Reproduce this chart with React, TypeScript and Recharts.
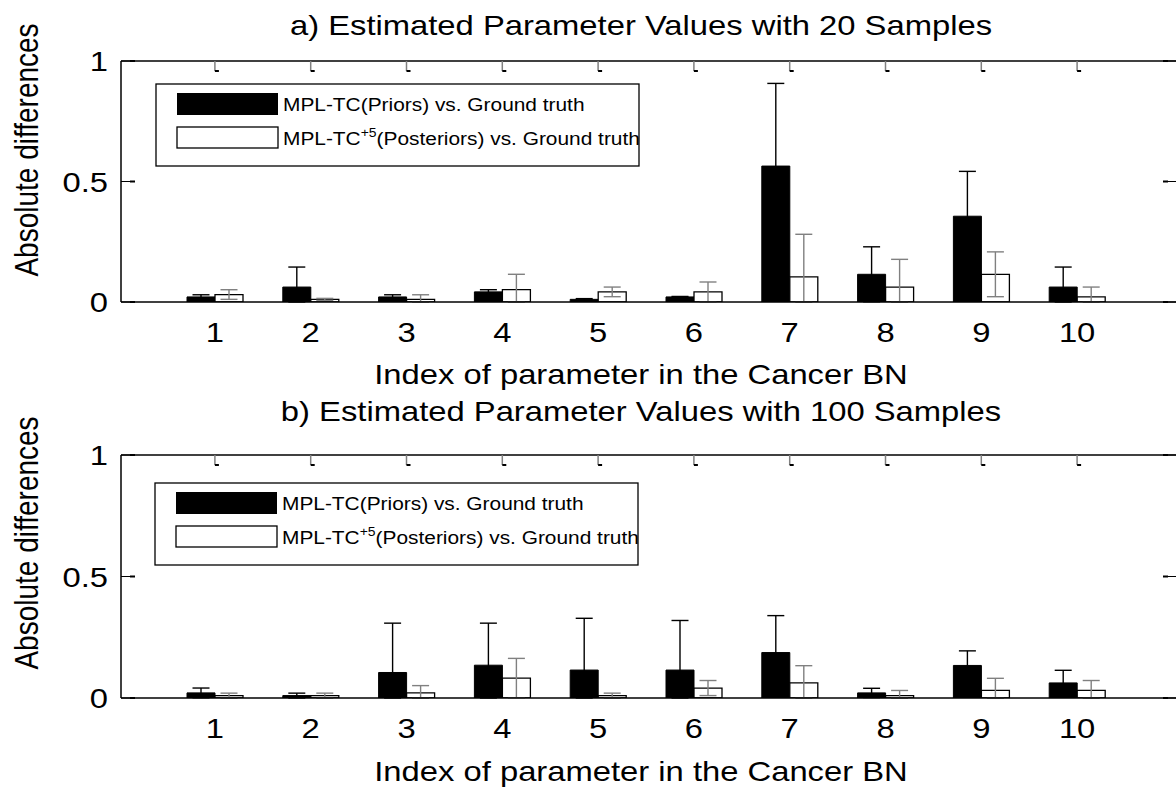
import { BarChart, Bar, XAxis, YAxis, ErrorBar } from "recharts";

const paramIndex = ["1", "2", "3", "4", "5", "6", "7", "8", "9", "10"];

// a) 20 samples
const priors20 = [0.021, 0.062, 0.021, 0.042, 0.011, 0.021, 0.564, 0.115, 0.356, 0.062];
const priors20Err = [0.009, 0.083, 0.009, 0.009, 0.003, 0.002, 0.343, 0.114, 0.186, 0.083];
const posteriors20 = [0.031, 0.011, 0.011, 0.051, 0.042, 0.042, 0.104, 0.062, 0.115, 0.021];
const posteriors20Err = [0.02, 0.004, 0.019, 0.064, 0.02, 0.041, 0.177, 0.115, 0.093, 0.041];

// b) 100 samples
const priors100 = [0.021, 0.01, 0.105, 0.135, 0.115, 0.115, 0.187, 0.021, 0.134, 0.062];
const priors100Err = [0.02, 0.01, 0.203, 0.173, 0.213, 0.204, 0.152, 0.019, 0.06, 0.052];
const posteriors100 = [0.01, 0.01, 0.021, 0.082, 0.01, 0.041, 0.062, 0.01, 0.031, 0.031];
const posteriors100Err = [0.01, 0.01, 0.03, 0.081, 0.01, 0.031, 0.071, 0.021, 0.05, 0.041];

const yTicks = [0, 0.5, 1];

const FONT = '"Liberation Sans", Arial, Helvetica, sans-serif';
const STRETCH = 1.17;
const PLOT_W = 1056;

type Row = {
  idx: string;
  prior: number;
  priorErr: number[];
  post: number;
  postErr: number[];
};

// error bars are cut at the x axis, like the axes clipping in the original
function buildRows(pr: number[], prErr: number[], po: number[], poErr: number[]): Row[] {
  return paramIndex.map((idx, i) => ({
    idx,
    prior: pr[i],
    priorErr: [Math.min(prErr[i], pr[i]), prErr[i]],
    post: po[i],
    postErr: [Math.min(poErr[i], po[i]), poErr[i]],
  }));
}

const rows20 = buildRows(priors20, priors20Err, posteriors20, posteriors20Err);
const rows100 = buildRows(priors100, priors100Err, posteriors100, posteriors100Err);

// bottom label + the inward tick on the top edge of the box
function XTick(props: any) {
  const { x, y, payload, plotH } = props;
  const yTop = y - plotH;
  return (
    <g>
      <line x1={x} y1={yTop} x2={x} y2={yTop + 10} stroke="#808080" strokeWidth={1.5} />
      <line x1={x} y1={yTop + 10} x2={x + 4} y2={yTop + 10} stroke="#000" strokeWidth={2} />
      <text
        transform={`translate(${x},${y + 40}) scale(${STRETCH},1)`}
        textAnchor="middle"
        fontSize={28}
        fontFamily={FONT}
        fill="#000"
      >
        {payload.value}
      </text>
    </g>
  );
}

// left label + inward ticks on both sides
function YTick(props: any) {
  const { x, y, payload } = props;
  return (
    <g>
      <line x1={x} y1={y} x2={x + 10} y2={y} stroke="#000" strokeWidth={1} />
      <line x1={x + 9} y1={y} x2={x + 14} y2={y} stroke="#000" strokeWidth={2} />
      <line x1={x + PLOT_W - 10} y1={y} x2={x + PLOT_W} y2={y} stroke="#000" strokeWidth={1} />
      <line x1={x + PLOT_W - 14} y1={y} x2={x + PLOT_W - 9} y2={y} stroke="#000" strokeWidth={2} />
      <text
        transform={`translate(${x - 13},${y + 10}) scale(${STRETCH},1)`}
        textAnchor="end"
        fontSize={28}
        fontFamily={FONT}
        fill="#000"
      >
        {payload.value}
      </text>
    </g>
  );
}

function EmptyTick() {
  return <g />;
}

function Panel({ top, height, plotH, data }: { top: number; height: number; plotH: number; data: Row[] }) {
  const bottom = height - 61 - plotH - 40;
  return (
    <div style={{ position: "absolute", left: 0, top }}>
      <BarChart
        width={1180}
        height={height}
        data={data}
        margin={{ top: 61, right: 3, left: 61, bottom }}
        barGap={0}
        barSize={28}
      >
        <XAxis
          dataKey="idx"
          interval={0}
          padding={{ left: 46, right: 52 }}
          height={40}
          tickLine={false}
          tickSize={0}
          tickMargin={0}
          tick={<XTick plotH={plotH} />}
          axisLine={{ stroke: "#000", strokeWidth: 1.5 }}
        />
        <XAxis
          xAxisId="top"
          orientation="top"
          dataKey="idx"
          mirror
          tick={<EmptyTick />}
          tickLine={false}
          axisLine={{ stroke: "#000", strokeWidth: 1.5 }}
        />
        <YAxis
          domain={[0, 1]}
          ticks={yTicks}
          allowDataOverflow
          width={60}
          tickLine={false}
          tickSize={0}
          tickMargin={0}
          tick={<YTick />}
          axisLine={{ stroke: "#000", strokeWidth: 1.5 }}
        />
        <YAxis
          yAxisId="right"
          orientation="right"
          domain={[0, 1]}
          mirror
          tick={<EmptyTick />}
          tickLine={false}
          axisLine={{ stroke: "#000", strokeWidth: 1.5 }}
        />
        <Bar dataKey="prior" fill="#000" stroke="#000" strokeWidth={1} isAnimationActive={false}>
          <ErrorBar dataKey="priorErr" direction="y" width={8.5} stroke="#000" strokeWidth={1.4} />
        </Bar>
        <Bar dataKey="post" fill="#fff" stroke="#000" strokeWidth={1.3} isAnimationActive={false}>
          <ErrorBar dataKey="postErr" direction="y" width={8.5} stroke="#808080" strokeWidth={1.4} />
        </Bar>
      </BarChart>
    </div>
  );
}

function LegendBox({ x, y }: { x: number; y: number }) {
  return (
    <g fontFamily={FONT} fill="#000">
      <rect x={x} y={y} width={483} height={82} fill="#fff" stroke="#000" strokeWidth={1.3} />
      <rect x={x + 21} y={y + 9} width={101} height={22} fill="#000" />
      <rect x={x + 21} y={y + 43} width={101} height={21} fill="#fff" stroke="#000" strokeWidth={1.3} />
      <text transform={`translate(${x + 127},${y + 27}) scale(1.16,1)`} fontSize={18}>
        MPL-TC(Priors) vs. Ground truth
      </text>
      <text transform={`translate(${x + 127},${y + 61}) scale(1.16,1)`} fontSize={18}>
        MPL-TC
        <tspan dy={-8} fontSize={12}>+5</tspan>
        <tspan dy={8}>(Posteriors) vs. Ground truth</tspan>
      </text>
    </g>
  );
}

function HText({ x, y, children }: { x: number; y: number; children: string }) {
  return (
    <text
      transform={`translate(${x},${y}) scale(${STRETCH},1)`}
      textAnchor="middle"
      fontSize={28}
      fontFamily={FONT}
      fill="#000"
    >
      {children}
    </text>
  );
}

function YLabel({ x, y }: { x: number; y: number }) {
  return (
    <text
      transform={`translate(${x},${y}) scale(${STRETCH},1) rotate(-90)`}
      textAnchor="middle"
      fontSize={28}
      fontFamily={FONT}
      fill="#000"
    >
      Absolute differences
    </text>
  );
}

export default function App() {
  return (
    <div
      style={{
        position: "absolute",
        left: 0,
        top: 0,
        width: 1176,
        height: 788,
        overflow: "hidden",
        background: "#fff",
      }}
    >
      <Panel top={0} height={394} plotH={241} data={rows20} />
      <Panel top={394} height={394} plotH={243} data={rows100} />
      <svg
        width={1176}
        height={788}
        style={{ position: "absolute", left: 0, top: 0, pointerEvents: "none" }}
      >
        <HText x={641} y={35}>a) Estimated Parameter Values with 20 Samples</HText>
        <HText x={641} y={384}>Index of parameter in the Cancer BN</HText>
        <HText x={641} y={421}>b) Estimated Parameter Values with 100 Samples</HText>
        <HText x={641} y={781}>Index of parameter in the Cancer BN</HText>
        <YLabel x={38} y={150} />
        <YLabel x={38} y={543} />
        <LegendBox x={156} y={84} />
        <LegendBox x={155} y={483} />
      </svg>
    </div>
  );
}
